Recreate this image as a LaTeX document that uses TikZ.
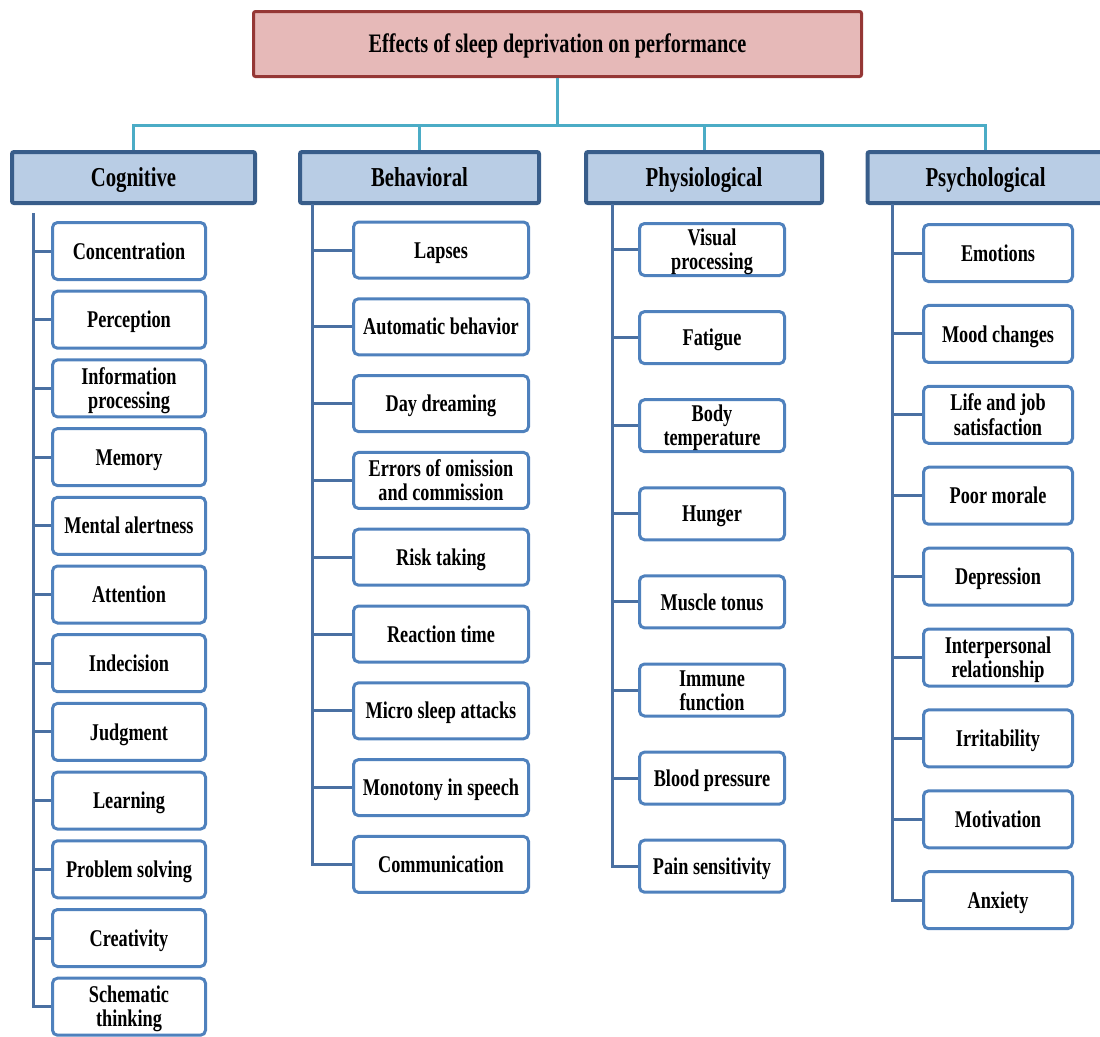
\documentclass[tikz,border=0pt]{standalone}
\usepackage{fontspec}
\usepackage{graphicx}
\setmainfont{Liberation Serif}
\newdimen\pxu \pxu=0.75pt
\newcommand\cnd[1]{\raisebox{-2.5pt}[\height][\depth]{\scalebox{0.76}[1]{\begin{tabular}{@{}c@{}}#1\end{tabular}}}}
\definecolor{topred}{HTML}{953735}
\definecolor{toppink}{HTML}{E6B9B8}
\definecolor{hdrline}{HTML}{385D8A}
\definecolor{hdrfill}{HTML}{B9CDE5}
\definecolor{kidline}{HTML}{4F81BD}
\definecolor{treeline}{HTML}{4A70A2}
\definecolor{busline}{HTML}{4BACC6}
\begin{document}
\begin{tikzpicture}[x=0.75pt,y=-0.75pt,
  topbox/.style={draw=topred,line width=3\pxu,fill=toppink,rounded corners=2\pxu,
    minimum width=608\pxu,minimum height=65\pxu,inner sep=0pt,
    font=\fontsize{20pt}{20pt}\selectfont\bfseries},
  hdr/.style={draw=hdrline,line width=4\pxu,fill=hdrfill,rounded corners=2\pxu,
    minimum height=51\pxu,inner sep=0pt,
    font=\fontsize{20.5pt}{20.5pt}\selectfont\bfseries},
  kid/.style={draw=kidline,line width=3\pxu,fill=white,rounded corners=5\pxu,
    inner sep=0pt,font=\fontsize{18pt}{18pt}\selectfont\bfseries},
  tree/.style={draw=treeline,line width=3\pxu},
  bus/.style={draw=busline,line width=3\pxu}]
\useasboundingbox (0,0) rectangle (1100,1036);
% top
\node[topbox] (top) at (557.5,44) {\cnd{Effects of sleep deprivation on performance}};
% headers
\node[hdr,minimum width=243\pxu] (cog) at (133.5,177.5) {\cnd{Cognitive}};
\node[hdr,minimum width=239\pxu] (beh) at (419.5,177.5) {\cnd{Behavioral}};
\node[hdr,minimum width=236\pxu] (phy) at (704,177.5) {\cnd{Physiological}};
\node[hdr,minimum width=236\pxu] (psy) at (985.5,177.5) {\cnd{Psychological}};
% bus
\coordinate (bus) at (557.5,125);
\foreach \h in {cog,beh,phy,psy} \draw[bus] (top.south) -- (bus) -| (\h.north);
% trunk tops
\coordinate (cogT) at (33,213);
\coordinate (behT) at (312,204);
\coordinate (phyT) at (612,204);
\coordinate (psyT) at (892,204);
% cognitive
\foreach \lbl [count=\i] in {Concentration,Perception,{Information\\processing},Memory,
  Mental alertness,Attention,Indecision,Judgment,Learning,Problem solving,Creativity,
  {Schematic\\thinking}}{
  \node[kid,minimum width=153\pxu,minimum height=57\pxu] (cog\i) at (129,{251+(\i-1)*68.7}) {\cnd{\lbl}};
  \draw[tree] (cogT) |- (cog\i.west);
}
% behavioral
\foreach \lbl [count=\i] in {Lapses,Automatic behavior,Day dreaming,
  {Errors of omission\\and commission},Risk taking,Reaction time,Micro sleep attacks,
  Monotony in speech,Communication}{
  \node[kid,minimum width=175\pxu,minimum height=56\pxu] (beh\i) at (441,{250+(\i-1)*76.8}) {\cnd{\lbl}};
  \draw[tree] (behT) |- (beh\i.west);
}
% physiological
\foreach \lbl [count=\i] in {{Visual\\processing},Fatigue,{Body\\temperature},Hunger,
  Muscle tonus,{Immune\\function},Blood pressure,Pain sensitivity}{
  \node[kid,minimum width=145\pxu,minimum height=52\pxu] (phy\i) at (712,{249.5+(\i-1)*88.1}) {\cnd{\lbl}};
  \draw[tree] (phyT) |- (phy\i.west);
}
% psychological
\foreach \lbl [count=\i] in {Emotions,Mood changes,{Life and job\\satisfaction},Poor morale,
  Depression,{Interpersonal\\relationship},Irritability,Motivation,Anxiety}{
  \node[kid,minimum width=149\pxu,minimum height=57\pxu] (psy\i) at (998,{253+(\i-1)*80.9}) {\cnd{\lbl}};
  \draw[tree] (psyT) |- (psy\i.west);
}
\end{tikzpicture}
\end{document}
